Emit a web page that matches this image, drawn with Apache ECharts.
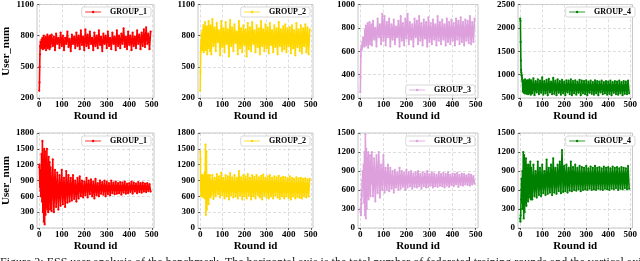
<!DOCTYPE html>
<html><head><meta charset="utf-8">
<script src="https://cdn.jsdelivr.net/npm/echarts@6/dist/echarts.min.js"></script>
<style>html,body{margin:0;padding:0;background:#fff;overflow:hidden}#c{width:640px;height:261px}</style>
</head><body><div id="c"></div>
<script>
// ---- data ----
const rounds = [0,1,2,3,4,5,6,7,8,9,
10,12,14,16,18,20,22,24,26,28,30,32,34,36,38,40,42,44,46,48,
50,55,60,65,70,75,80,85,90,95,100,105,110,115,120,125,130,135,140,145,
150,155,160,165,170,175,180,185,190,195,200,205,210,215,220,225,230,235,240,245,
250,255,260,265,270,275,280,285,290,295,300,305,310,315,320,325,330,335,340,345,
350,355,360,365,370,375,380,385,390,395,400,405,410,415,420,425,430,435,440,445,
450,455,460,465,470,475,480,485,490,495];

const groupNames = ['GROUP_1','GROUP_2','GROUP_3','GROUP_4'];
const groupColors = ['#ff0000','#ffd700','#dda0dd','#008000'];
const xTicks = [0,100,200,300,400,500];

// top row
const top1 = [270,350,500,620,700,690,740,680,720,700,
760,690,780,670,740,800,680,750,700,790,660,770,720,810,680,750,700,790,670,800,
690,810,700,790,660,820,720,780,680,830,
700,800,660,780,720,840,690,770,650,810,
720,790,680,830,700,800,670,850,710,790,
660,860,700,810,680,840,720,780,660,830,
700,800,680,850,710,790,650,820,720,800,
680,840,700,780,670,830,720,790,660,850,
700,800,680,820,720,870,690,790,670,840,
710,800,660,830,700,790,680,850,720,810,
670,830,700,860,690,880,720,820,670,840];
const top2 = [270,450,640,700,760,690,820,720,780,660,
850,700,900,640,820,720,930,660,800,700,890,620,850,740,940,680,810,650,900,720,
620,960,700,880,650,920,740,850,610,940,
690,870,640,930,720,860,600,950,700,880,
650,910,730,840,620,940,680,870,640,900,
710,860,600,920,670,880,650,930,720,850,
640,900,690,870,620,940,700,860,650,910,
680,880,630,920,710,850,640,900,690,870,
620,930,700,860,650,890,670,910,640,870,
700,880,630,900,680,850,610,920,690,860,
650,900,630,870,700,910,640,880,620,860];
const top3 = [250,380,560,610,620,640,610,650,630,680,
640,720,660,700,640,780,680,820,650,760,700,840,630,790,720,850,660,770,690,830,
650,860,700,800,640,880,720,830,660,920,
690,900,650,850,720,880,640,830,700,870,
660,810,720,860,640,900,690,840,650,880,
710,920,660,850,700,830,640,880,720,860,
660,900,690,840,650,870,710,850,640,890,
680,840,660,870,700,830,650,900,690,850,
660,870,700,830,650,880,680,850,660,870,
690,840,650,880,700,860,660,890,680,850,
650,870,690,860,670,900,660,850,680,880];
const top4 = [2200,2150,1700,1300,1100,1050,1000,980,940,900,
860,640,880,620,850,600,900,650,830,590,870,620,880,580,860,640,900,600,850,570,
880,600,920,560,860,620,900,580,870,610,
940,570,860,600,890,560,910,620,850,580,
930,590,870,560,900,610,860,570,890,600,
850,560,880,620,870,580,900,560,860,600,
880,570,850,610,890,560,870,600,860,580,
880,560,850,610,870,590,840,570,880,600,
860,560,850,620,870,580,840,600,860,570,
850,590,870,560,840,610,860,580,850,570,
870,600,840,560,860,590,850,580,870,600];
// bottom row
const bot1 = [1150,1200,900,780,1000,700,850,600,1100,750,
1400,500,1650,300,1300,120,1500,70,1450,250,1300,400,1500,350,1200,300,1350,500,1250,350,
1150,320,1300,300,1100,400,1050,350,1000,420,
1100,450,950,400,1080,480,1000,500,950,520,
1000,550,900,500,950,560,980,600,900,580,
880,620,950,580,900,640,920,600,880,560,
930,620,850,600,900,650,870,630,900,600,
880,640,850,620,900,660,860,640,880,650,
850,660,870,630,860,670,880,650,840,660,
850,680,880,650,860,690,840,660,870,680,
850,670,860,690,840,680,850,700,830,690];
const bot2 = [1450,1300,700,950,600,1000,650,900,700,980,
620,1000,580,950,640,1050,560,1580,250,1450,350,980,600,1000,450,950,640,1000,580,900,
620,1000,550,950,600,1020,640,980,580,1050,
620,950,560,1000,600,980,540,1040,620,960,
580,1000,600,950,560,1080,620,960,540,1000,
600,980,560,1020,620,950,540,1000,600,970,
560,1000,620,960,580,990,540,1010,620,950,
580,980,560,1000,600,950,560,980,620,960,
580,990,550,950,600,970,560,960,600,940,
570,980,540,950,600,930,560,960,590,940,
570,950,560,930,600,940,580,920,600,930];
const bot3 = [300,250,320,200,450,380,600,500,750,650,
900,700,1000,400,1200,200,1480,150,1250,300,1100,500,1200,450,1050,600,1150,500,1000,700,
1200,500,1100,420,1150,550,1200,480,1000,600,
1150,560,950,600,1000,580,950,620,900,560,
920,640,880,600,950,620,900,650,870,600,
920,640,880,660,900,620,860,650,880,640,
900,660,850,620,880,660,860,640,900,650,
850,670,880,640,860,660,840,650,880,670,
850,660,870,640,850,670,880,650,840,680,
860,660,850,690,870,650,840,680,860,670,
850,690,830,680,850,670,840,690,820,700];
const bot4 = [150,100,200,300,450,600,780,500,700,400,
900,300,1200,150,1150,250,1050,400,1100,350,1000,500,950,420,1000,480,900,550,1050,450,
950,450,1000,500,900,480,1050,520,950,500,
1000,550,900,520,1080,540,950,560,1000,520,
1100,560,950,540,1000,580,1050,550,1230,570,
980,580,1000,560,950,590,1050,580,960,600,
1000,590,950,610,980,580,960,600,950,610,
980,600,940,620,970,600,950,610,980,600,
950,620,960,610,940,600,970,620,950,610,
960,600,940,620,970,610,950,630,960,600,
940,620,960,610,950,630,940,610,980,620];

const panelValues = [top1,top2,top3,top4,bot1,bot2,bot3,bot4];
const yMins = [200,200,200,500,0,0,0,0];
const yMaxs = [1100,1100,1000,2500,1800,1800,1500,1500];
const yIntervals = [300,300,200,500,300,300,300,300];

// ---- layout ----
const cols = [[36,118],[198,115],[358,120],[518,120]];
const rows = [[4,94],[133,95]];
const legendAtBottom = [false,false,true,false,false,false,false,false];
const FONT = 'Liberation Serif';

const grid=[], xAxis=[], yAxis=[], series=[], legend=[];
for (let i=0;i<8;i++){
  const c = i%4, r = Math.floor(i/4);
  const [left,width] = cols[c], [top,height] = rows[r];
  grid.push({left, top, width, height, show:true, borderColor:'#b8b8b8', borderWidth:0.8, backgroundColor:'#fff'});
  xAxis.push({type:'value', gridIndex:i, min:-10, max:510,
    name:'Round id', nameLocation:'middle', nameGap:13,
    nameTextStyle:{fontFamily:FONT, fontWeight:'bold', fontSize:11, color:'#000'},
    axisLine:{show:false},
    axisTick:{show:true, length:2, lineStyle:{color:'#333', width:0.8}, customValues:xTicks},
    axisLabel:{customValues:xTicks, fontFamily:FONT, fontWeight:'bold', fontSize:9, color:'#000', margin:2},
    splitLine:{show:true, lineStyle:{type:[3,2], color:'#d6d6d6', width:0.8}}
  });
  yAxis.push({type:'value', gridIndex:i, min:yMins[i], max:yMaxs[i], interval:yIntervals[i],
    name: c===0 ? 'User_num' : '', nameLocation:'middle', nameGap:25, nameRotate:90,
    nameTextStyle:{fontFamily:FONT, fontWeight:'bold', fontSize:11, color:'#000'},
    axisLine:{show:false},
    axisTick:{show:true, length:2, lineStyle:{color:'#333', width:0.8}},
    axisLabel:{formatter:v=>String(v), fontFamily:FONT, fontWeight:'bold', fontSize:9, color:'#000', margin:3},
    splitLine:{show:true, lineStyle:{type:[3,2], color:'#d6d6d6', width:0.8}}
  });
  const vals = panelValues[i];
  series.push({type:'line', name:groupNames[c], xAxisIndex:i, yAxisIndex:i,
    data: rounds.map((x,k)=>[x, vals[k]]),
    color: groupColors[c],
    lineStyle:{width:1.6, color:groupColors[c]},
    symbol:'circle', symbolSize:2.2, showSymbol:true,
    itemStyle:{color:groupColors[c]},
    animation:false, silent:true
  });
  const lg = {data:[{name:groupNames[c], itemStyle:{color:groupColors[c]}, lineStyle:{width:0.8}}], orient:'horizontal',
    right: 640-(left+width)+3,
    itemWidth:16, itemHeight:3, itemGap:2,
    padding:[1,4,1,3], borderColor:'#cfcfcf', borderWidth:0.8, borderRadius:2,
    backgroundColor:'#fff',
    textStyle:{fontFamily:FONT, fontWeight:'bold', fontSize:8, color:'#000', padding:[0,0,0,4]},
    selectedMode:false};
  if (legendAtBottom[i]) lg.top = top+height-13; else lg.top = top+3;
  legend.push(lg);
}

const chart = echarts.init(document.getElementById('c'), null, {renderer:'canvas'});
chart.setOption({
  animation:false,
  grid, xAxis, yAxis, series, legend,
  graphic:[{type:'text', left:0, top:257,
    style:{text:'Figure 2: ESS user analysis of the benchmark. The horizontal axis is the total number of federated training rounds and the vertical axis is',
      fontFamily:FONT, fontSize:12, fill:'#222'}}]
});
</script></body></html>
